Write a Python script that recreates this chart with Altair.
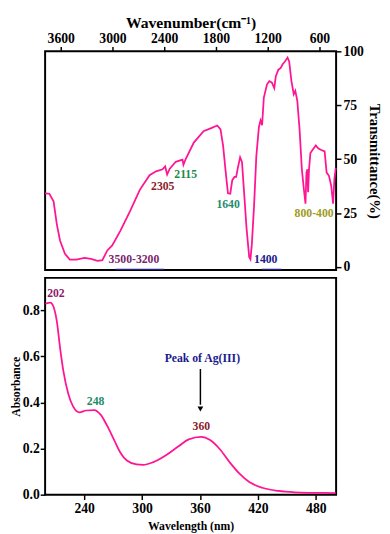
import altair as alt
import pandas as pd

FONT = "Liberation Serif"
PINK = "#FF1493"

# ---- FTIR spectrum (top) ----
ir_wavenumber = [3781, 3732, 3683, 3645, 3608, 3551, 3495, 3419, 3325, 3249, 3173, 3117,
                 3060, 3003, 2909, 2796, 2683, 2570, 2494, 2419, 2389, 2366, 2336, 2266,
                 2188, 2177, 2151, 2057, 1944, 1849, 1785, 1747, 1717, 1687, 1661, 1634,
                 1611, 1585, 1566, 1548, 1520, 1498, 1472, 1446, 1415, 1400, 1384, 1358,
                 1332, 1302, 1283, 1265, 1245, 1208, 1181, 1151, 1124, 1106, 1076, 1049,
                 1027, 1000, 970, 951, 925, 898, 880, 857, 830, 804, 781, 762, 751, 739,
                 732, 721, 705, 679, 642, 615, 585, 540, 517, 490, 464, 442, 427, 411]
ir_transmittance = [34.2, 34.0, 30.5, 19.8, 12.3, 6.2, 3.5, 3.5, 4.2, 3.8, 2.9, 3.2,
                    7.7, 10.0, 16.8, 25.9, 35.8, 42.6, 44.4, 45.3, 46.7, 42.9, 45.6, 48.8,
                    49.8, 47.4, 50.1, 57.7, 63.0, 64.5, 65.6, 63.8, 56.2, 44.0, 34.2, 34.0,
                    40.3, 41.8, 41.8, 45.6, 50.9, 48.6, 33.5, 18.3, 4.7, 3.6, 10.5, 28.6,
                    51.4, 65.0, 68.0, 65.8, 78.6, 84.7, 86.2, 85.5, 82.9, 88.5, 91.5, 92.3,
                    94.0, 95.3, 97.1, 95.3, 86.2, 80.1, 81.7, 77.1, 63.5, 45.3, 36.2, 29.4,
                    43.8, 45.3, 34.7, 45.3, 52.9, 54.4, 56.4, 55.1, 54.4, 53.6, 43.8, 42.3,
                    37.7, 29.4, 40.8, 46.0]

ir_label_text = ["3500-3200", "2305", "2115", "1640", "1400", "800-400"]
ir_label_x = [2751, 2417, 2151, 1659, 1223, 662]
ir_label_y = [3.6, 37.7, 42.9, 29.2, 3.6, 25.0]
ir_label_color = ["#7A1F6E", "#8B1A2B", "#1E8B4C", "#1F8B6F", "#1A1A8C", "#9E9A1E"]

ir_band_start = [2966, 1268]
ir_band_end = [2400, 1042]

# ---- UV-Vis spectrum (bottom) ----
uv_wavelength = [199.8, 204.9, 208.3, 211.7, 215.0, 218.4, 223.5, 228.6, 235.2, 242.0,
                 250.4, 257.2, 264.0, 270.7, 277.4, 284.2, 294.3, 301.0, 311.1, 324.7,
                 338.1, 348.3, 361.1, 370.5, 380.6, 390.8, 400.9, 411.0, 424.5, 441.4,
                 458.2, 475.0, 500.5]
uv_absorbance = [0.828, 0.833, 0.814, 0.750, 0.637, 0.537, 0.438, 0.382, 0.357, 0.365,
                 0.367, 0.346, 0.297, 0.240, 0.183, 0.148, 0.131, 0.129, 0.140, 0.171,
                 0.211, 0.240, 0.251, 0.237, 0.197, 0.140, 0.091, 0.055, 0.030, 0.016,
                 0.010, 0.008, 0.007]

uv_label_text = ["202", "248", "360", "Peak of Ag(III)"]
uv_label_x = [210.7, 251.8, 361.4, 362.4]
uv_label_y = [0.875, 0.407, 0.299, 0.591]
uv_label_color = ["#8B1C6E", "#1F8B6A", "#8B1A2B", "#1A1A8C"]

arrow_x = [360.4]
arrow_top = [0.545]
arrow_bottom = [0.39]
arrow_tip = [0.372]

common_axis = dict(labelFont=FONT, titleFont=FONT, labelFontWeight="bold", titleFontWeight="bold",
                   labelFontSize=14, labelColor="black", titleColor="black", tickColor="black",
                   tickSize=5, tickWidth=1.5, domain=False, grid=False, labelFlush=False)

# ---------- top chart ----------
ir_df = pd.DataFrame({"wn": ir_wavenumber, "t": ir_transmittance})
ir_lab = pd.DataFrame({"text": ir_label_text, "wn": ir_label_x, "t": ir_label_y, "c": ir_label_color})
ir_band = pd.DataFrame({"a": ir_band_start, "b": ir_band_end, "t": [-1.0, -1.0]})

xs_top = alt.Scale(domain=[407, 3781], reverse=True, nice=False, zero=False)
ys_top = alt.Scale(domain=[-1.4, 100], nice=False, zero=False)

x_top_axis = alt.Axis(orient="top", title="Wavenumber(cm⁻¹)", values=[600, 1200, 1800, 2400, 3000, 3600],
                      format="d", titleFontSize=16, titlePadding=1, labelPadding=1, **common_axis)
y_top_axis = alt.Axis(orient="right", title="Transmittance(%)", values=[0, 25, 50, 75, 100],
                      format="d", titleFontSize=15, titlePadding=3, labelPadding=2, **common_axis)

ir_line = alt.Chart(ir_df).mark_line(color=PINK, strokeWidth=1.8).encode(
    x=alt.X("wn:Q", scale=xs_top, axis=x_top_axis),
    y=alt.Y("t:Q", scale=ys_top, axis=y_top_axis),
)
ir_bands = alt.Chart(ir_band).mark_rule(color="#3A3AC8", strokeWidth=1.5, opacity=0.6).encode(
    x=alt.X("a:Q", scale=xs_top), x2="b:Q", y=alt.Y("t:Q", scale=ys_top)
)
ir_text = alt.Chart(ir_lab).mark_text(font=FONT, fontWeight="bold", fontSize=12, baseline="middle").encode(
    x=alt.X("wn:Q", scale=xs_top), y=alt.Y("t:Q", scale=ys_top), text="text:N",
    color=alt.Color("c:N", scale=None),
)
top = alt.layer(ir_line, ir_bands, ir_text).properties(width=298, height=224)

# ---------- bottom chart ----------
uv_df = pd.DataFrame({"nm": uv_wavelength, "a": uv_absorbance})
uv_lab = pd.DataFrame({"text": uv_label_text, "nm": uv_label_x, "a": uv_label_y, "c": uv_label_color})
arr = pd.DataFrame({"nm": arrow_x, "a1": arrow_top, "a2": arrow_bottom, "tip": arrow_tip})

xs_bot = alt.Scale(domain=[199.5, 501], nice=False, zero=False)
ys_bot = alt.Scale(domain=[0, 0.94], nice=False)

x_bot_axis = alt.Axis(title="Wavelength (nm)", values=[240, 300, 360, 420, 480], format="d",
                      titleFontSize=12, titlePadding=6, labelPadding=2, **common_axis)
y_bot_axis = alt.Axis(title="Absorbance", values=[0, 0.2, 0.4, 0.6, 0.8], format=".1f",
                      titleFontSize=12, titlePadding=0, labelPadding=1, **common_axis)

uv_line = alt.Chart(uv_df).mark_line(color=PINK, strokeWidth=1.8, interpolate="monotone").encode(
    x=alt.X("nm:Q", scale=xs_bot, axis=x_bot_axis),
    y=alt.Y("a:Q", scale=ys_bot, axis=y_bot_axis),
)
uv_text = alt.Chart(uv_lab).mark_text(font=FONT, fontWeight="bold", fontSize=12, baseline="middle").encode(
    x=alt.X("nm:Q", scale=xs_bot), y=alt.Y("a:Q", scale=ys_bot), text="text:N",
    color=alt.Color("c:N", scale=None),
)
arrow_rule = alt.Chart(arr).mark_rule(color="black", strokeWidth=1.5).encode(
    x=alt.X("nm:Q", scale=xs_bot), y=alt.Y("a1:Q", scale=ys_bot), y2="a2:Q"
)
arrow_head = alt.Chart(arr).mark_point(shape="triangle-down", filled=True, color="black", size=35, opacity=1).encode(
    x=alt.X("nm:Q", scale=xs_bot), y=alt.Y("tip:Q", scale=ys_bot)
)
bottom = alt.layer(uv_line, arrow_rule, arrow_head, uv_text).properties(width=298, height=222)

chart = alt.vconcat(top, bottom, spacing=2).configure_view(
    stroke="black", strokeWidth=2
).properties(padding={"left": 0, "top": 0, "right": 0, "bottom": 0})

chart.save("out.html", embed_options={"renderer": "svg", "actions": False})
